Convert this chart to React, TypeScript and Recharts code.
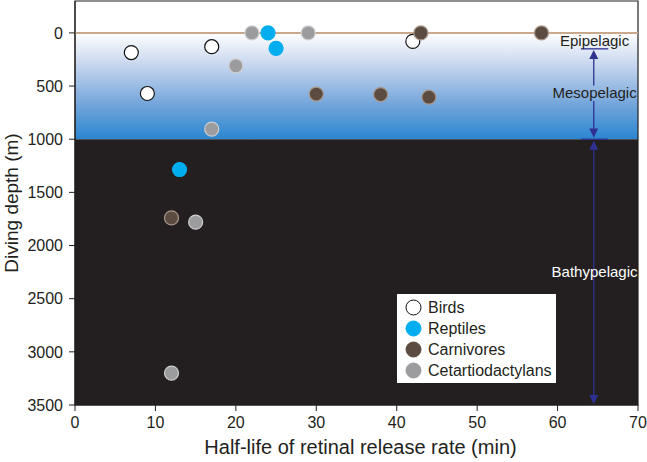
import {
  ScatterChart,
  Scatter,
  XAxis,
  YAxis,
  ReferenceArea,
  ReferenceLine,
  ReferenceDot,
  Legend,
} from "recharts";

// half-life (min) vs diving depth (m)
const birdsX = [7, 9, 17, 42];
const birdsY = [185, 570, 130, 80];
const reptilesX = [24, 25, 13];
const reptilesY = [0, 145, 1285];
const carnivoresX = [43, 58, 30, 38, 44, 12];
const carnivoresY = [0, 0, 575, 580, 605, 1740];
const cetX = [22, 29, 20, 17, 15, 12];
const cetY = [0, 0, 310, 905, 1780, 3200];

const xTicks = [0, 10, 20, 30, 40, 50, 60, 70];
const yTicks = [0, 500, 1000, 1500, 2000, 2500, 3000, 3500];

const zip = (xs: number[], ys: number[]) => xs.map((x, i) => ({ x, y: ys[i] }));

const SERIES = [
  { name: "Birds", data: zip(birdsX, birdsY), fill: "#ffffff", stroke: "#111111" },
  { name: "Cetartiodactylans", data: zip(cetX, cetY), fill: "#9c9c9e", stroke: "#cfcfd1" },
  { name: "Reptiles", data: zip(reptilesX, reptilesY), fill: "#00aeef", stroke: "#00aeef" },
  { name: "Carnivores", data: zip(carnivoresX, carnivoresY), fill: "#5c4b40", stroke: "#a8978a" },
];
const LEGEND_ORDER = ["Birds", "Reptiles", "Carnivores", "Cetartiodactylans"];

const ZONE = "#2e3192";
const INK = "#231f20";
const FONT = "Arial, 'Liberation Sans', sans-serif";

const arrowShape = (headStart: boolean, headEnd: boolean) => (props: any) => {
  const { x1, y1, x2, y2 } = props;
  const h = 9;
  const w = 4.5;
  return (
    <g>
      <line x1={x1} y1={y1 + (headStart ? h - 1 : 0)} x2={x2} y2={y2 - (headEnd ? h - 1 : 0)} stroke={ZONE} strokeWidth={1.3} />
      {headStart && <polygon points={`${x1},${y1} ${x1 - w},${y1 + h} ${x1 + w},${y1 + h}`} fill={ZONE} />}
      {headEnd && <polygon points={`${x2},${y2} ${x2 - w},${y2 - h} ${x2 + w},${y2 - h}`} fill={ZONE} />}
    </g>
  );
};

const dot = (fill: string, stroke: string) => (props: any) => (
  <circle cx={props.cx} cy={props.cy} r={7} fill={fill} stroke={stroke} strokeWidth={1.2} />
);

const LegendBox = () => (
  <div
    style={{
      background: "#fff",
      width: 159,
      height: 89,
      boxSizing: "border-box",
      padding: "3px 0 0 8px",
      fontFamily: FONT,
      fontSize: 16,
      color: INK,
    }}
  >
    {LEGEND_ORDER.map((n) => {
      const s = SERIES.find((d) => d.name === n)!;
      return (
        <div key={n} style={{ display: "flex", alignItems: "center", height: 21 }}>
          <svg width={17} height={17} style={{ marginRight: 6 }}>
            <circle cx={8.5} cy={8.5} r={7.5} fill={s.fill} stroke={n === "Birds" ? "#111" : s.fill} strokeWidth={1} />
          </svg>
          <span>{n}</span>
        </div>
      );
    })}
  </div>
);

const zoneLabel = (value: string, color: string) => ({
  value,
  position: "center" as const,
  fill: color,
  fontSize: 15,
  fontFamily: FONT,
});

export default function App() {
  return (
    <div style={{ position: "absolute", left: 0, top: 0, fontFamily: FONT }}>
      <ScatterChart width={647} height={462} margin={{ top: 1, right: 9, bottom: 0, left: 0 }}>
        <defs>
          <linearGradient id="seaGrad" x1="0" y1="0" x2="0" y2="1">
            <stop offset="0%" stopColor="#ffffff" />
            <stop offset="30%" stopColor="#c7d6ee" />
            <stop offset="65%" stopColor="#78a8dc" />
            <stop offset="100%" stopColor="#2a86d0" />
          </linearGradient>
        </defs>
        <XAxis
          type="number"
          dataKey="x"
          domain={[0, 70]}
          ticks={xTicks}
          height={57}
          tickSize={6}
          tickMargin={6}
          tick={{ fontSize: 16, fill: INK, fontFamily: FONT }}
          stroke={INK}
          label={{
            content: (p: any) => {
              const vb = p.viewBox;
              return (
                <text
                  x={vb.x + vb.width / 2 + 4}
                  y={447}
                  textAnchor="middle"
                  dominantBaseline="central"
                  style={{ fontSize: 20, fontFamily: FONT, fill: INK }}
                >
                  Half-life of retinal release rate (min)
                </text>
              );
            },
          }}
        />
        <YAxis
          type="number"
          dataKey="y"
          domain={[-300, 3500]}
          reversed
          allowDataOverflow
          ticks={yTicks}
          width={75}
          tickSize={6}
          tickMargin={6}
          tick={{ fontSize: 16, fill: INK, fontFamily: FONT }}
          stroke={INK}
          label={{
            content: () => {
              const cx = 11;
              const cy = 203;
              return (
                <text
                  x={cx}
                  y={cy}
                  transform={`rotate(-90 ${cx} ${cy})`}
                  textAnchor="middle"
                  dominantBaseline="central"
                  style={{ fontSize: 19, fontFamily: FONT, fill: INK }}
                >
                  Diving depth (m)
                </text>
              );
            },
          }}
        />
        <ReferenceArea x1={0} x2={70} y1={0} y2={1000} fill="url(#seaGrad)" fillOpacity={1} stroke="none" />
        <ReferenceArea x1={0} x2={70} y1={1000} y2={3500} fill={INK} fillOpacity={1} stroke="none" />
        <ReferenceArea x1={0} x2={70} y1={-300} y2={3500} fill="none" fillOpacity={0} stroke={INK} strokeWidth={1.2} />
        <ReferenceLine y={0} stroke="#c9a88c" strokeWidth={2} />
        <ReferenceLine segment={[{ x: 62.9, y: 150 }, { x: 66.3, y: 150 }]} stroke={ZONE} strokeWidth={1.3} />
        <ReferenceLine segment={[{ x: 62.9, y: 1000 }, { x: 66.3, y: 1000 }]} stroke={ZONE} strokeWidth={1.3} />
        <ReferenceLine segment={[{ x: 64.5, y: 160 }, { x: 64.5, y: 495 }]} shape={arrowShape(true, false)} />
        <ReferenceLine segment={[{ x: 64.5, y: 640 }, { x: 64.5, y: 985 }]} shape={arrowShape(false, true)} />
        <ReferenceLine segment={[{ x: 64.5, y: 1015 }, { x: 64.5, y: 3490 }]} shape={arrowShape(true, true)} />
        <ReferenceDot x={64.6} y={75} r={0} stroke="none" fill="none" label={zoneLabel("Epipelagic", INK)} />
        <ReferenceDot x={64.6} y={565} r={0} stroke="none" fill="none" label={zoneLabel("Mesopelagic", INK)} />
        <ReferenceDot x={64.6} y={2250} r={0} stroke="none" fill="none" label={zoneLabel("Bathypelagic", "#ffffff")} />
        {SERIES.map((s) => (
          <Scatter
            key={s.name}
            name={s.name}
            data={s.data}
            fill={s.fill}
            shape={dot(s.fill, s.stroke)}
            isAnimationActive={false}
          />
        ))}
        <Legend
          layout="vertical"
          align="center"
          verticalAlign="middle"
          content={() => <LegendBox />}
          wrapperStyle={{ left: 397, top: 294, width: 159, height: 89 }}
        />
      </ScatterChart>
    </div>
  );
}
